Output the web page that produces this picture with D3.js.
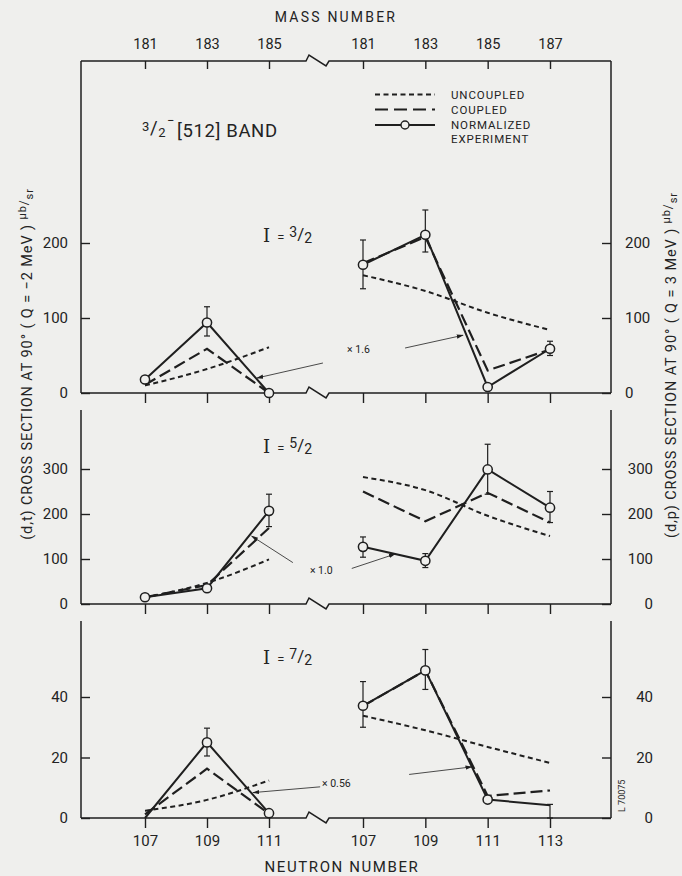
<!DOCTYPE html>
<html>
<head>
<meta charset="utf-8">
<script src="https://cdn.jsdelivr.net/npm/d3@7"></script>
<style>
  html, body { margin: 0; padding: 0; background: #efefed; }
  svg { display: block; }
  text { fill: #232323; font-family: Roboto, "DejaVu Sans", sans-serif; }
</style>
</head>
<body>
<svg id="chart" width="682" height="876"></svg>
<script>
// Neutron numbers either side of the axis break, and the matching mass numbers
const neutronLeft = [107, 109, 111];
const neutronRight = [107, 109, 111, 113];
const massLeft = [181, 183, 185];
const massRight = [181, 183, 185, 187];

// Band members I = n/2 and the y ticks of each panel
const spins = ["3", "5", "7"];
const yTicks = [[0, 100, 200], [0, 100, 200, 300], [0, 20, 40]];
const normFactors = ["\u00d7 1.6", "\u00d7 1.0", "\u00d7 0.56"];

// (d,t) cross sections, one row per panel (μb/sr)
const uncoupledLeft = [[10, 32, 61], [15, 47, 99], [2.4, 6, 12.4]];
const coupledLeft = [[11, 59, 0], [15, 42, 169], [1.2, 16.3, 1.4]];
const experimentLeft = [[18, 94, 0], [15, 35, 207], [0, 25, 1.6]];
const errorLeft = [
  [null, [76, 115], null],
  [null, null, [172, 244]],
  [null, [20.5, 29.7], null],
];
const markerLeft = [[1, 1, 1], [1, 1, 1], [0, 1, 1]];

// (d,p) cross sections
const uncoupledRight = [[157, 136, 107, 84], [282, 253, 196, 151], [33.8, 29, 23.5, 18.2]];
const coupledRight = [[173, 208, 30, 58], [250, 184, 247, 181], [37, 48.8, 7.3, 9.1]];
const experimentRight = [[171, 211, 8, 59], [127, 96, 299, 214], [37.1, 48.8, 6.1, 4.2]];
const errorRight = [
  [[139, 204], [188, 244], null, [50, 69]],
  [[104, 149], [81, 112], [244, 355], [181, 250]],
  [[30, 45.1], [42.5, 55.7], null, [0, 4.5]],
];
const markerRight = [[1, 1, 1, 1], [1, 1, 1, 1], [1, 1, 1, 0]];

// Normalization pointers, in (neutron number, value) units of each side
const pointerLeft = [
  [[112.74, 40], [110.61, 20]],
  [[111.77, 92], [110.44, 151]],
  [[112.65, 10.3], [110.48, 8.4]],
];
const pointerRight = [
  [[108.35, 60], [110.21, 77]],
  [[106.64, 79], [108.03, 111]],
  [[108.48, 14.4], [110.49, 16.9]],
];
const factorAt = [[113.52, 52.7], [112.32, 65.6], [112.71, 10.4]];

// layout
const ink = "#1f1f1f";
const bg = "#efefed";
const frameLeft = 81, frameRight = 611, frameTop = 61;
const breakX = 306;
const panelBox = [
  { base: 393, top: frameTop, max: 200, maxY: 243, label: 241.5 },
  { base: 604, top: 410, max: 300, maxY: 469, label: 453 },
  { base: 818, top: 621, max: 40, maxY: 697, label: 664 },
];

const svg = d3.select("#chart");

const xLeft = d3.scaleLinear().domain([107, 111]).range([145, 269]);
const xRight = d3.scaleLinear().domain([107, 113]).range([363, 550]);
const mLeft = d3.scaleLinear().domain([181, 185]).range([145, 269]);
const mRight = d3.scaleLinear().domain([181, 187]).range([363, 550]);

svg.append("defs").append("marker")
  .attr("id", "head")
  .attr("viewBox", "0 0 10 10")
  .attr("refX", 9).attr("refY", 5)
  .attr("markerWidth", 7).attr("markerHeight", 7)
  .attr("markerUnits", "userSpaceOnUse")
  .attr("orient", "auto")
  .append("path")
  .attr("d", "M0,2 L10,5 L0,8 Z")
  .attr("fill", ink);

// horizontal line with the small zig-zag break
function brokenLine(y) {
  const z = [[breakX, y], [breakX + 3, y - 6], [breakX + 20, y + 5], [breakX + 23, y]];
  return d3.line()([[frameLeft, y], ...z, [frameRight, y]]);
}

function styleAxis(g, size) {
  g.attr("font-family", null).attr("font-size", null);
  g.select(".domain").remove();
  g.selectAll("line").attr("stroke", ink).attr("stroke-width", 1.4);
  g.selectAll("text").attr("font-size", size).attr("fill", "#232323");
}

// top mass-number axis
svg.append("path").attr("d", brokenLine(frameTop))
  .attr("fill", "none").attr("stroke", ink).attr("stroke-width", 1.5);
[[mLeft, massLeft], [mRight, massRight]].forEach(([m, vals]) => {
  svg.append("g").attr("transform", `translate(0,${frameTop})`)
    .call(d3.axisTop(m).tickValues(vals).tickFormat(d3.format("d"))
      .tickSize(-8).tickPadding(12))
    .call(styleAxis, 14.5);
});
svg.append("text").attr("x", 336).attr("y", 22).attr("text-anchor", "middle")
  .attr("font-size", 14).attr("letter-spacing", 2.2).text("MASS NUMBER");

// band title
const band = svg.append("text").attr("x", 142).attr("y", 137).attr("font-size", 18.5)
  .attr("letter-spacing", 0.6);
band.append("tspan").attr("font-size", 13).attr("dy", -6).text("3");
band.append("tspan").attr("dy", 3).text("/");
band.append("tspan").attr("font-size", 13).attr("dy", 3).text("2");
band.append("tspan").attr("font-size", 13).attr("dy", -12).attr("dx", 1).text("\u2212");
band.append("tspan").attr("dy", 12).attr("dx", 2).text("[512] BAND");

// legend
const legend = svg.append("g").attr("transform", "translate(375,0)");
const legendRows = [
  { y: 94.5, dash: "5 3.5", label: "UNCOUPLED" },
  { y: 109.5, dash: "13 6", label: "COUPLED" },
  { y: 125, dash: null, label: "NORMALIZED" },
];
legendRows.forEach((r) => {
  legend.append("line").attr("x1", 0).attr("x2", 60).attr("y1", r.y).attr("y2", r.y)
    .attr("stroke", ink).attr("stroke-width", 2).attr("stroke-dasharray", r.dash);
  legend.append("text").attr("x", 76).attr("y", r.y + 4)
    .attr("font-size", 11.5).attr("letter-spacing", 0.9).text(r.label);
});
legend.append("circle").attr("cx", 30).attr("cy", 125).attr("r", 4)
  .attr("fill", bg).attr("stroke", ink).attr("stroke-width", 1.4);
legend.append("text").attr("x", 76).attr("y", 143)
  .attr("font-size", 11.5).attr("letter-spacing", 0.9).text("EXPERIMENT");

// one panel per band member
panelBox.forEach((p, i) => {
  const y = d3.scaleLinear().domain([0, p.max]).range([p.base, p.maxY]);
  const g = svg.append("g");

  // frame: side axes and broken baseline
  g.append("line").attr("x1", frameLeft).attr("x2", frameLeft)
    .attr("y1", p.top).attr("y2", p.base).attr("stroke", ink).attr("stroke-width", 1.5);
  g.append("line").attr("x1", frameRight).attr("x2", frameRight)
    .attr("y1", p.top).attr("y2", p.base).attr("stroke", ink).attr("stroke-width", 1.5);
  g.append("path").attr("d", brokenLine(p.base))
    .attr("fill", "none").attr("stroke", ink).attr("stroke-width", 1.5);

  g.append("g").attr("transform", `translate(${frameLeft},0)`)
    .call(d3.axisLeft(y).tickValues(yTicks[i]).tickSize(-9).tickPadding(13))
    .call(styleAxis, 15);
  const ra = g.append("g").attr("transform", `translate(${frameRight},0)`)
    .call(d3.axisRight(y).tickValues(yTicks[i]).tickSize(-9).tickPadding(14))
    .call(styleAxis, 15);
  if (i > 0) ra.selectAll("text").attr("text-anchor", "end").attr("x", 42);

  [[xLeft, neutronLeft], [xRight, neutronRight]].forEach(([x, vals]) => {
    const ax = g.append("g").attr("transform", `translate(0,${p.base})`)
      .call(d3.axisBottom(x).tickValues(vals).tickFormat(d3.format("d"))
        .tickSize(10).tickPadding(7))
      .call(styleAxis, 15);
    if (i < 2) ax.selectAll("text").remove();
  });

  // spin label  I = n/2
  const lab = g.append("text").attr("x", 263).attr("y", p.label).attr("font-size", 17);
  lab.append("tspan").attr("font-family", "'DejaVu Serif', serif").attr("font-size", 18).text("I");
  lab.append("tspan").attr("dx", 7).attr("font-size", 13).text("=");
  lab.append("tspan").attr("dx", 5).attr("dy", -5).attr("font-size", 14).text(spins[i]);
  lab.append("tspan").attr("dy", 3).text("/");
  lab.append("tspan").attr("dy", 3).attr("font-size", 14).text("2");

  const sides = [
    { x: xLeft, n: neutronLeft, unc: uncoupledLeft[i], cou: coupledLeft[i], exp: experimentLeft[i],
      err: errorLeft[i], mk: markerLeft[i], ptr: pointerLeft[i] },
    { x: xRight, n: neutronRight, unc: uncoupledRight[i], cou: coupledRight[i], exp: experimentRight[i],
      err: errorRight[i], mk: markerRight[i], ptr: pointerRight[i] },
  ];

  sides.forEach((s) => {
    const pts = (vals) => vals.map((v, k) => [s.x(s.n[k]), y(v)]);

    g.append("path").attr("d", d3.line().curve(d3.curveMonotoneX)(pts(s.unc)))
      .attr("fill", "none").attr("stroke", ink).attr("stroke-width", 2)
      .attr("stroke-dasharray", "5 3.5");
    g.append("path").attr("d", d3.line()(pts(s.cou)))
      .attr("fill", "none").attr("stroke", ink).attr("stroke-width", 2.2)
      .attr("stroke-dasharray", "12 5");
    g.append("path").attr("d", d3.line()(pts(s.exp)))
      .attr("fill", "none").attr("stroke", ink).attr("stroke-width", 2);

    // error bars
    s.err.forEach((e, k) => {
      if (!e) return;
      const cx = s.x(s.n[k]);
      g.append("line").attr("x1", cx).attr("x2", cx).attr("y1", y(e[0])).attr("y2", y(e[1]))
        .attr("stroke", ink).attr("stroke-width", 1.2);
      e.forEach((v) => {
        g.append("line").attr("x1", cx - 3).attr("x2", cx + 3).attr("y1", y(v)).attr("y2", y(v))
          .attr("stroke", ink).attr("stroke-width", 1.2);
      });
    });

    // open circles for the normalized experiment
    g.selectAll(null).data(s.exp.map((v, k) => ({ n: s.n[k], v, on: s.mk[k] })).filter((d) => d.on))
      .join("circle")
      .attr("cx", (d) => s.x(d.n)).attr("cy", (d) => y(d.v)).attr("r", 4.6)
      .attr("fill", bg).attr("stroke", ink).attr("stroke-width", 1.5);

    // pointer from the normalization factor
    g.append("line")
      .attr("x1", s.x(s.ptr[0][0])).attr("y1", y(s.ptr[0][1]))
      .attr("x2", s.x(s.ptr[1][0])).attr("y2", y(s.ptr[1][1]))
      .attr("stroke", ink).attr("stroke-width", 0.8).attr("marker-end", "url(#head)");
  });

  g.append("text").attr("x", xLeft(factorAt[i][0])).attr("y", y(factorAt[i][1]))
    .attr("font-size", 10.5).text(normFactors[i]);
});

svg.append("text").attr("x", 342).attr("y", 872).attr("text-anchor", "middle")
  .attr("font-size", 15).attr("letter-spacing", 1.6).text("NEUTRON NUMBER");

// side titles
function sideTitle(x, cy, reaction, q) {
  const t = svg.append("text").attr("transform", `translate(${x},${cy}) rotate(-90)`)
    .attr("text-anchor", "middle").attr("font-size", 14.5).attr("letter-spacing", 0.9);
  t.append("tspan").text(`${reaction} CROSS SECTION AT 90\u00b0 ( Q = ${q} MeV ) `);
  t.append("tspan").attr("font-size", 11).attr("dy", -6).text("\u03bcb");
  t.append("tspan").attr("font-size", 12).attr("dy", 2).text("/");
  t.append("tspan").attr("font-size", 11).attr("dy", 5).text("sr");
}
sideTitle(32, 364, "(d,t)", "\u22122");
sideTitle(676, 365, "(d,p)", "3");

// plate number
svg.append("text").attr("transform", "translate(625,812) rotate(-90)")
  .attr("font-size", 9).text("L 70075");
</script>
</body>
</html>
